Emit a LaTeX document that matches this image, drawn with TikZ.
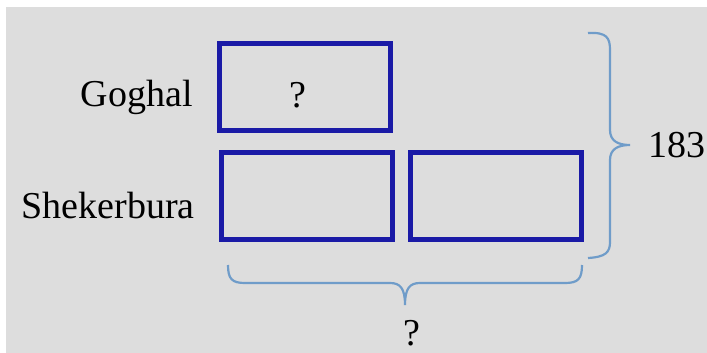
\documentclass[tikz,border=0pt]{standalone}
\usepackage{fontspec}
\setmainfont{Liberation Serif}
\usepackage{tikz}
\usetikzlibrary{positioning,calc}

\definecolor{bggray}{HTML}{DDDDDD}
\definecolor{boxblue}{HTML}{1A1AA6}
\definecolor{braceblue}{HTML}{6F9CC9}

\tikzset{
    bar/.style={draw=boxblue, line width=5pt, fill=bggray, minimum width=171pt, minimum height=87pt, inner sep=0pt},
    lbl/.style={font=\fontsize{38}{38}\selectfont, inner sep=0pt},
    bracket/.style={draw=braceblue, line width=2.2pt}
}

\begin{document}
\begin{tikzpicture}[x=1pt,y=-1pt]
    % Canvas
    \fill[white] (0,0) rectangle (707,353);
    \fill[bggray] (6,7) rectangle (707,353);
    \useasboundingbox (0,0) rectangle (707,353);

    % Bars
    \node[bar] (goghal) at (305,87) {};
    \node[bar] (sheker1) at (307,196) {};
    \node[bar] (sheker2) at (496,196) {};
    \node[lbl] (goghalq) at (298,95) {?};

    % Names
    \node[lbl, anchor=east] (goghallbl) at (193,97) {Goghal};
    \node[lbl, anchor=east] (shekerlbl) at (195,206) {Shekerbura};

    % Right brace
    \coordinate (rtop) at (588,33);
    \coordinate (rtip) at (630,145);
    \coordinate (rbot) at (588,258);
    \draw[bracket] (rtop) .. controls (607,32) and (610,38) .. (610,50)
        -- (610,130) .. controls (610,141) and (618,145) .. (rtip)
        .. controls (618,145) and (610,149) .. (610,160)
        -- (610,242) .. controls (610,252) and (606,257) .. (rbot);

    % Bottom brace
    \coordinate (bleft) at (228,265);
    \coordinate (btip) at (405,305);
    \coordinate (bright) at (582,265);
    \draw[bracket] (bleft) .. controls (228,279) and (232,283) .. (245,283)
        -- (390,283) .. controls (400,283) and (405,288) .. (btip)
        .. controls (405,288) and (410,283) .. (420,283)
        -- (565,283) .. controls (578,283) and (582,279) .. (bright);

    % Totals
    \node[lbl, anchor=west] (total) at (648,145) {183};
    \node[lbl] (unknown) at (412,333) {?};
\end{tikzpicture}
\end{document}
